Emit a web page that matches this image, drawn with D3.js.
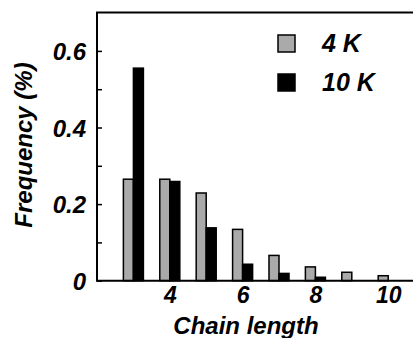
<!DOCTYPE html>
<html>
<head>
<meta charset="utf-8">
<script src="https://cdn.jsdelivr.net/npm/d3@7"></script>
<style>
  html, body { margin: 0; padding: 0; background: #fff; }
  text { font-family: "Liberation Sans", Arial, sans-serif; font-weight: bold; font-style: italic; }
</style>
</head>
<body>
<div id="chart"></div>
<script>
/* Data. */
const chainLengths = [3, 4, 5, 6, 7, 8, 9, 10]
const freq4K = [0.265, 0.265, 0.229, 0.134, 0.066, 0.036, 0.022, 0.013]
const freq10K = [0.555, 0.259, 0.138, 0.043, 0.019, 0.009, 0, 0]
const seriesNames = ["4 K", "10 K"]
const seriesColors = ["#aaaaaa", "#000000"]
const xTickValues = [4, 6, 8, 10]
const yTickValues = [0, 0.1, 0.2, 0.3, 0.4, 0.5, 0.6]
const yTickLabels = ["0", "", "0.2", "", "0.4", "", "0.6"]

/* Define svg-size. */
const width = 413
const height = 338

const svg = d3.select("#chart")
  .append("svg")
  .attr("width", width)
  .attr("height", height)

/* Scales. The plot box runs off the right edge. */
const x = d3.scaleLinear()
  .domain([2, 11])
  .range([97, 97 + 9 * 36.4])

const y = d3.scaleLinear()
  .domain([0, 0.7])
  .range([280.7, 12.6])

const barW = x(2.275) - x(2)

/* Bars, gray left of the tick, black right of it. */
const rows = chainLengths.map((c, i) => ({ c, a: freq4K[i], b: freq10K[i] }))

svg.append("g")
  .selectAll("rect")
  .data(rows)
  .enter()
  .append("rect")
  .attr("x", d => x(d.c) - barW)
  .attr("y", d => y(d.a))
  .attr("width", barW)
  .attr("height", d => y(0) - y(d.a))
  .attr("fill", seriesColors[0])
  .attr("stroke", "#000")
  .attr("stroke-width", 1.5)

svg.append("g")
  .selectAll("rect")
  .data(rows.filter(d => d.b > 0))
  .enter()
  .append("rect")
  .attr("x", d => x(d.c))
  .attr("y", d => y(d.b))
  .attr("width", barW)
  .attr("height", d => y(0) - y(d.b))
  .attr("fill", seriesColors[1])
  .attr("stroke", "#000")
  .attr("stroke-width", 1.5)

/* Y axis: ticks point inside the box. */
const yAxis = d3.axisLeft(y)
  .tickValues(yTickValues)
  .tickSize(-5)
  .tickPadding(11)
  .tickFormat((d, i) => yTickLabels[i])

const gy = svg.append("g")
  .attr("transform", `translate(${x(2)},0)`)
  .call(yAxis)
gy.select(".domain").remove()
gy.selectAll("line").attr("stroke", "#000").attr("stroke-width", 1.5)
gy.selectAll("text")
  .attr("font-size", 24)
  .attr("fill", "#000")
  .attr("dy", "0.36em")
  .style("font-family", "'Liberation Sans', Arial, sans-serif")

/* X axis labels. */
const xAxis = d3.axisBottom(x)
  .tickValues(xTickValues)
  .tickSize(0)
  .tickPadding(6)

const gx = svg.append("g")
  .attr("transform", `translate(0,${y(0)})`)
  .call(xAxis)
gx.select(".domain").remove()
gx.selectAll("text")
  .attr("font-size", 23)
  .attr("fill", "#000")
  .attr("dy", "0.72em")
  .style("font-family", "'Liberation Sans', Arial, sans-serif")

/* Frame: left, top and bottom lines. */
const frame = svg.append("g")
  .attr("stroke", "#000")
  .attr("stroke-width", 2)
  .attr("fill", "none")
frame.append("path")
  .attr("d", `M${x(11)},${y(0.7)}H${x(2)}V${y(0)}H${x(11)}`)

/* Axis titles. */
svg.append("text")
  .attr("x", 246)
  .attr("y", 334)
  .attr("text-anchor", "middle")
  .attr("font-size", 24)
  .text("Chain length")

svg.append("text")
  .attr("transform", "translate(32,145) rotate(-90)")
  .attr("text-anchor", "middle")
  .attr("font-size", 24)
  .text("Frequency (%)")

/* Legend. */
const legend = svg.append("g")
  .selectAll("g")
  .data(seriesNames)
  .enter()
  .append("g")
  .attr("transform", (d, i) => `translate(278,${35 + i * 39})`)

legend.append("rect")
  .attr("width", 17)
  .attr("height", 17)
  .attr("fill", (d, i) => seriesColors[i])
  .attr("stroke", "#000")
  .attr("stroke-width", 1.5)

legend.append("text")
  .attr("x", 44)
  .attr("y", 17)
  .attr("font-size", 25)
  .text(d => d)
</script>
</body>
</html>
